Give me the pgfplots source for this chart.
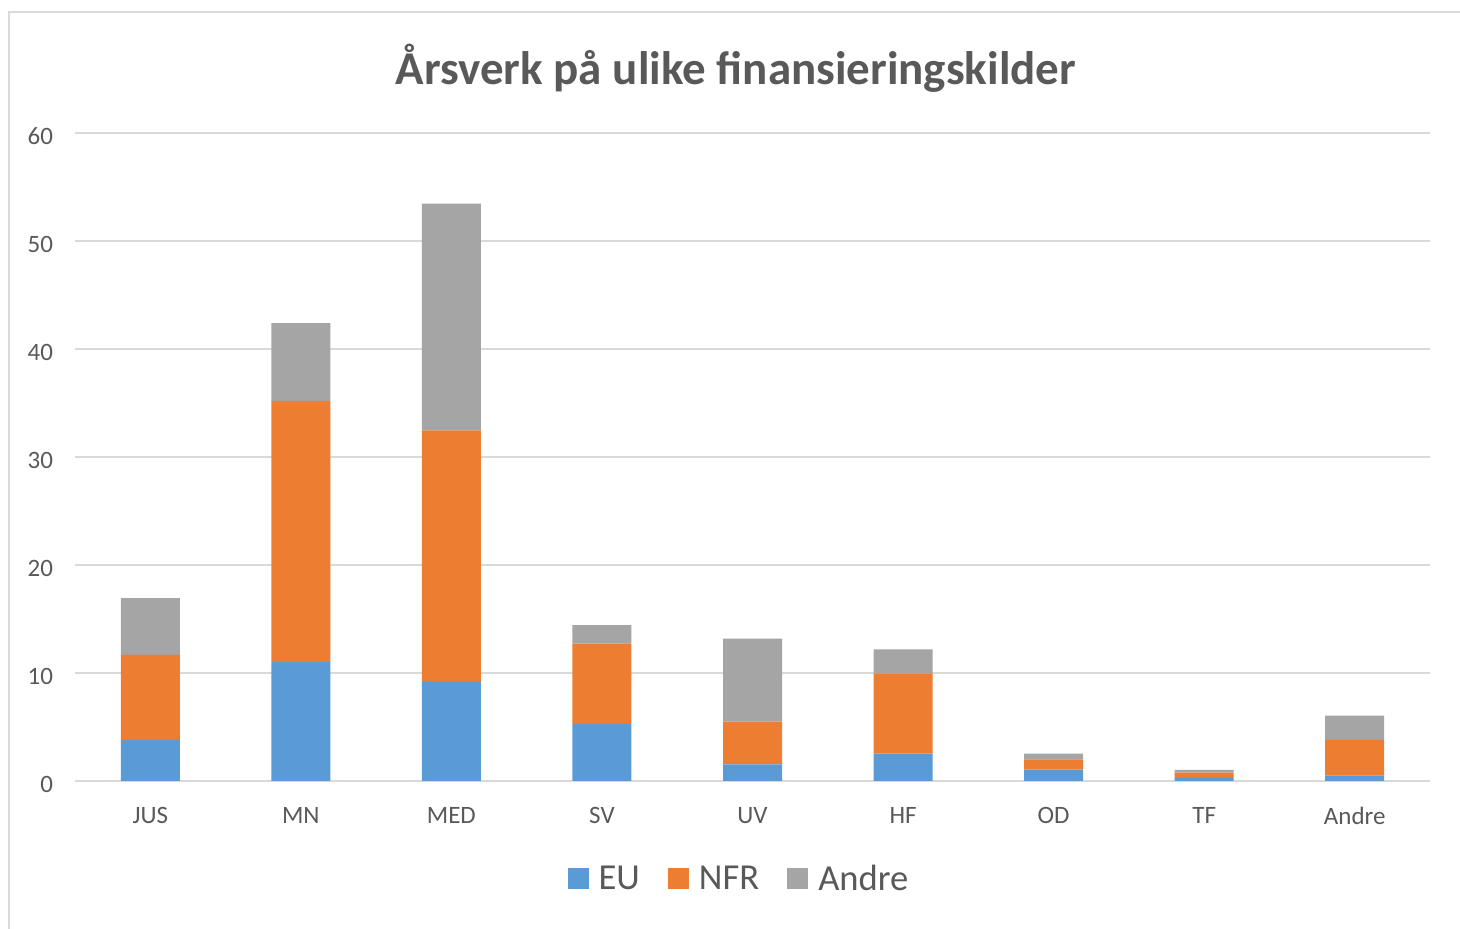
\documentclass[border=0pt]{standalone}
\usepackage{pgfplots}
\pgfplotsset{compat=1.18}
\usepackage{fontspec}
\setmainfont{Carlito}
\definecolor{cEU}{HTML}{5B9BD5}
\definecolor{cNFR}{HTML}{ED7D31}
\definecolor{cAndre}{HTML}{A5A5A5}
\definecolor{txt}{HTML}{595959}
\definecolor{grd}{HTML}{D9D9D9}
\begin{document}
\begin{tikzpicture}
\path[use as bounding box] (-37.5pt,-74pt) rectangle (692.5pt,390.5pt);
\draw[grd, line width=1pt] (-33pt,-74pt) -- (-33pt,384.5pt) -- (692.5pt,384.5pt);
\begin{axis}[
  at={(0,0)}, anchor=south west,
  scale only axis, width=677.5pt, height=324pt,
  ybar stacked, bar width=29.5pt,
  xmin=-0.5, xmax=8.5, ymin=0, ymax=60,
  xtick={0,...,8},
  xticklabels={JUS,MN,MED,SV,UV,HF,OD,TF,Andre},
  ytick={0,10,...,60},
  axis line style={draw=none},
  major tick length=0pt,
  ymajorgrids, grid style={grd, line width=1pt},
  tick label style={font=\fontsize{12.5}{14}\selectfont, text=txt},
  /pgf/number format/assume math mode=true,
  yticklabel style={xshift=-7.5pt, yshift=-1.5pt},
  xticklabel style={yshift=-9.5pt},
  legend style={at={(0.493,-0.151)}, anchor=center, draw=none, legend columns=-1,
    font=\fontsize{18.3}{20}\selectfont, text=txt,
    nodes={inner xsep=5pt},
    /tikz/every even column/.append style={column sep=9pt}},
  legend image code/.code={\fill[#1] (0pt,-5.25pt) rectangle (10.5pt,5.25pt);},
  clip=false,
]
\addplot[fill=cEU, draw=none] coordinates {(0,3.8) (1,11.0) (2,9.17) (3,5.28) (4,1.55) (5,2.53) (6,1.06) (7,0.28) (8,0.5)};
\addplot[fill=cNFR, draw=none] coordinates {(0,7.87) (1,24.2) (2,23.3) (3,7.43) (4,3.94) (5,7.44) (6,0.95) (7,0.5) (8,3.3)};
\addplot[fill=cAndre, draw=none] coordinates {(0,5.27) (1,7.2) (2,21.0) (3,1.73) (4,7.69) (5,2.22) (6,0.53) (7,0.24) (8,2.25)};
\legend{EU,NFR,Andre}
\node[font=\bfseries\fontsize{23.5}{28}\selectfont, text=txt] at (axis description cs:0.4878,1.1) {Årsverk på ulike finansieringskilder};
\end{axis}
\end{tikzpicture}
\end{document}
